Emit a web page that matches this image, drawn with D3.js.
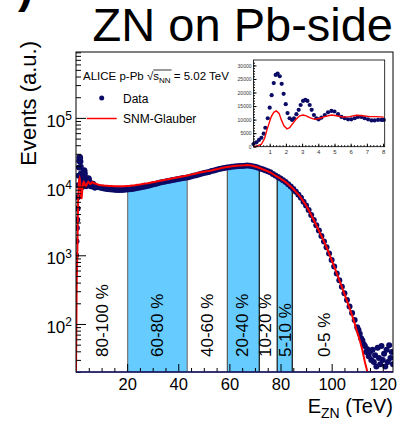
<!DOCTYPE html>
<html>
<head>
<meta charset="utf-8">
<script src="https://cdn.jsdelivr.net/npm/d3@7"></script>
<style>
body { margin: 0; background: #fff; }
svg { display: block; font-family: "Liberation Sans", Arial, Helvetica, sans-serif; }
</style>
</head>
<body>
<svg id="chart"></svg>
<script>
// low energy part (TeV), also shown in the inset
const lowE = [0, 0.18, 0.34, 0.49, 0.63, 0.73, 0.88, 1.0, 1.12, 1.25, 1.37, 1.49, 1.62, 1.74, 1.86, 1.99,
    2.1, 2.23, 2.38, 2.5, 2.65, 2.79, 2.91, 3.06, 3.2, 3.33, 3.47, 3.59, 3.73, 3.88, 4.02, 4.19, 4.4,
    4.6, 4.81, 5.0, 5.22, 5.43, 5.63, 5.84, 6.04, 6.25, 6.45, 6.66, 6.86, 7.07, 7.28, 7.48, 7.69, 7.9, 8.04];
const lowData = [1000, 1600, 2500, 3300, 4800, 7000, 10500, 14400, 19000, 23500, 26500, 27000, 26000, 23200, 19500, 15700,
    12400, 10500, 9900, 10500, 12000, 13600, 15400, 16900, 17300, 16900, 15400, 13600, 11700, 10500, 10100, 10700, 11700,
    12700, 13200, 13000, 12000, 11000, 10500, 10100, 10100, 10500, 11000, 11000, 10500, 10100, 9700, 9700, 9900, 9900, 9900];
const lowModelE = [0, 0.28, 0.49, 0.69, 0.83, 0.96, 1.1, 1.25, 1.41, 1.58, 1.72, 1.88, 2.07, 2.23, 2.43, 2.64,
    2.85, 3.06, 3.26, 3.47, 3.78, 4.09, 4.4, 4.81, 5.12, 5.53, 5.94, 6.35, 6.76, 7.17, 7.58, 8.04];
const lowModel = [0, 400, 900, 3100, 6200, 8600, 11100, 12700, 13200, 12300, 9900, 7700, 6600, 7000, 8600, 10200,
    11400, 11700, 11400, 10700, 10100, 10500, 11100, 11700, 11400, 10900, 11100, 11600, 11400, 11100, 11100, 10900];

// main spectrum, 1 TeV bins from 9 TeV
const mainStart = 9;
const mainData = [9790, 9530, 9380, 9230, 9140, 9050, 8990, 8920, 8920, 8950, 8990, 9050, 9140, 9230, 9380, 9530,
    9690, 9870, 10030, 10200, 10450, 10700, 10950, 11200, 11470, 11660, 11860, 12060, 12260, 12470, 12680, 12900,
    13080, 13300, 13480, 13710, 14040, 14380, 14660, 15010, 15370, 15740, 16060, 16370, 16810, 17200, 17610, 18030,
    18340, 18650, 18910, 19160, 19420, 19610, 19740, 19870, 20010, 20140, 20280, 20140, 19810, 19420, 18910, 18400,
    17860, 17260, 16680, 16120, 15240, 14490, 13780, 13110, 12340, 11620, 10840, 10030, 9230, 8390, 7620, 6850,
    6040, 5290, 4550, 3850, 3260, 2740, 2290, 1910, 1590, 1310, 1060, 853, 686, 545, 433, 348, 281, 223, 180, 145, 114, 90];
// noisy tail, 0.5 TeV bins from 110.5 TeV
const tailStart = 110.5;
const tailData = [82, 72, 62, 58, 51, 48, 39, 43, 34, 39, 30, 42, 28, 35, 24, 45, 32, 26, 48, 30, 37, 24, 42, 28, 49, 32, 39, 26];
// SNM-Glauber, 1 TeV bins from 9 TeV
const modelData = [10550, 10430, 10330, 10260, 10190, 10160, 10120, 10090, 10090, 10090, 10120, 10190, 10260, 10360,
    10470, 10610, 10750, 10940, 11080, 11150, 11340, 11540, 11730, 11970, 12180, 12380, 12550, 12760, 12980, 13200,
    13420, 13640, 13870, 14110, 14350, 14590, 14940, 15240, 15550, 15870, 16190, 16460, 16690, 16910, 17200, 17550,
    17900, 18270, 18640, 18950, 19210, 19470, 19730, 19930, 20060, 20200, 20340, 20470, 20540, 20400, 20060, 19600,
    19080, 18510, 17900, 17310, 16690, 16030, 15240, 14490, 13780, 13110, 12340, 11620, 10840, 10030, 9230, 8390,
    7620, 6850, 6040, 5290, 4550, 3850, 3260, 2740, 2290, 1910, 1590, 1310, 1060, 853, 686, 545, 433, 348, 273, 216,
    171, 133, 102, 76, 58, 42, 28, 15, 0, 0, 0, 0, 0, 0, 0, 0, 0, 0];

// centrality classes
const classNames = ['80-100 %', '60-80 %', '40-60 %', '20-40 %', '10-20 %', '5-10 %', '0-5 %'];
const classEdges = [0, 20.2, 43.5, 59.2, 71.7, 78.7, 84.6, 124];
const classLabelE = [10, 31.8, 51.3, 64.9, 74.1, 81.6, 97];
const filledClasses = ['60-80 %', '20-40 %', '5-10 %'];

const xTicks = [20, 40, 60, 80, 100, 120];
const yTicks = [1e2, 1e3, 1e4, 1e5];
const insetXTicks = [1, 2, 3, 4, 5, 6, 7, 8];
const insetYTicks = [0, 5000, 10000, 15000, 20000, 25000, 30000];

class ZNChart {

    constructor(config) {
        this.config = {
            parent: config.parent,
            width: config.width || 403,
            height: config.height || 422,
            margin: config.margin || {top: 52, right: 10, bottom: 50, left: 76}
        }
        this.init();
    }

    init() {
        let self = this;

        self.svg = d3.select(self.config.parent)
            .attr('width', self.config.width)
            .attr('height', self.config.height);

        self.inner_width = self.config.width - self.config.margin.left - self.config.margin.right;
        self.inner_height = self.config.height - self.config.margin.top - self.config.margin.bottom;

        self.chart = self.svg.append('g')
            .attr('transform', `translate(${self.config.margin.left}, ${self.config.margin.top})`);

        self.ymin = 20;
        self.xscale = d3.scaleLinear()
            .domain([0, 124])
            .range([0, self.inner_width]);
        self.yscale = d3.scaleLog()
            .domain([self.ymin, 9.1e5])
            .range([self.inner_height, 0]);

        self.data = lowE.map((e, i) => ({e: e, v: lowData[i]}))
            .concat(mainData.map((v, i) => ({e: mainStart + i, v: v})))
            .concat(tailData.map((v, i) => ({e: tailStart + 0.5 * i, v: v})));
        self.model = lowModelE.map((e, i) => ({e: e, v: lowModel[i]}))
            .concat(modelData.map((v, i) => ({e: mainStart + i, v: v})));

        self.svg.append('defs').append('clipPath').attr('id', 'plotclip')
            .append('rect').attr('width', self.inner_width).attr('height', self.inner_height);
    }

    yv(v) {
        return this.yscale(Math.max(v, this.ymin));
    }

    // data value at energy e, interpolated in log
    valueAt(e) {
        let d = this.data;
        for (let i = 0; i < d.length - 1; i++) {
            if (e >= d[i].e && e <= d[i + 1].e) {
                let t = (e - d[i].e) / (d[i + 1].e - d[i].e);
                return Math.exp(Math.log(d[i].v) * (1 - t) + Math.log(d[i + 1].v) * t);
            }
        }
        return d[d.length - 1].v;
    }

    render() {
        let self = this;
        const navy = '#0b0b66';

        let plot = self.chart.append('g').attr('clip-path', 'url(#plotclip)');

        // filled centrality classes
        classNames.forEach((name, i) => {
            if (filledClasses.indexOf(name) < 0) return;
            let lo = classEdges[i], hi = classEdges[i + 1];
            let pts = [{e: lo, v: self.valueAt(lo)}]
                .concat(self.data.filter(d => d.e > lo && d.e < hi))
                .concat([{e: hi, v: self.valueAt(hi)}]);
            plot.append('path')
                .datum(pts)
                .attr('fill', '#66ccff')
                .attr('d', d3.area()
                    .x(d => self.xscale(d.e))
                    .y0(self.inner_height)
                    .y1(d => self.yv(d.v)));
        });

        // class boundaries
        const edgeColors = ['#777', '#777', '#555', '#111', '#111', '#111'];
        classEdges.slice(1, 7).forEach((e, i) => {
            plot.append('line')
                .attr('x1', self.xscale(e)).attr('x2', self.xscale(e))
                .attr('y1', self.inner_height).attr('y2', self.yv(self.valueAt(e)))
                .attr('stroke', edgeColors[i]).attr('stroke-width', 1.2);
        });

        // class labels
        classNames.forEach((name, i) => {
            self.chart.append('text')
                .attr('transform', `translate(${self.xscale(classLabelE[i]) + 6}, ${self.inner_height - 15}) rotate(-90)`)
                .attr('font-size', 17)
                .text(name);
        });

        // data points
        plot.selectAll('circle.data').data(self.data).enter()
            .append('circle')
            .attr('class', 'data')
            .attr('cx', d => self.xscale(d.e))
            .attr('cy', d => self.yv(d.v))
            .attr('r', 3)
            .attr('fill', navy);

        // model line
        plot.append('path')
            .datum(self.model)
            .attr('fill', 'none')
            .attr('stroke', '#ff0000')
            .attr('stroke-width', 2)
            .attr('d', d3.line().x(d => self.xscale(d.e)).y(d => self.yv(d.v)));

        // axes
        self.xaxis_group = self.chart.append('g')
            .attr('transform', `translate(0, ${self.inner_height})`)
            .call(d3.axisBottom(self.xscale).tickValues(xTicks).tickSize(-8).tickPadding(6).tickFormat(d3.format('d')))
            .attr('font-size', 16.5).attr('font-family', null);
        self.xaxis_group.select('.domain').remove();

        let xminor = d3.range(5, 124, 5).filter(v => xTicks.indexOf(v) < 0);
        self.chart.append('g')
            .attr('transform', `translate(0, ${self.inner_height})`)
            .call(d3.axisBottom(self.xscale).tickValues(xminor).tickSize(-4).tickFormat(''))
            .select('.domain').remove();

        self.yaxis_group = self.chart.append('g')
            .call(d3.axisLeft(self.yscale).tickValues(yTicks).tickSize(-10).tickPadding(4))
            .attr('font-size', 17).attr('font-family', null);
        self.yaxis_group.select('.domain').remove();
        self.yaxis_group.selectAll('text').each(function(d) {
            let t = d3.select(this).attr('dy', '0.5em').text('10');
            t.append('tspan').attr('dy', '-0.55em').attr('font-size', 12).text(Math.round(Math.log10(d)));
        });

        let yminor = [];
        [10, 100, 1e3, 1e4, 1e5].forEach(dec => {
            for (let k = 2; k <= 9; k++) {
                let v = k * dec;
                if (v >= self.ymin && v <= 9.1e5) yminor.push(v);
            }
        });
        self.chart.append('g')
            .call(d3.axisLeft(self.yscale).tickValues(yminor).tickSize(-5).tickFormat(''))
            .select('.domain').remove();

        // frame
        self.chart.append('rect')
            .attr('width', self.inner_width).attr('height', self.inner_height)
            .attr('fill', 'none').attr('stroke', '#000').attr('stroke-width', 1);
        self.chart.append('line')
            .attr('x1', 0).attr('x2', self.inner_width)
            .attr('y1', self.inner_height).attr('y2', self.inner_height)
            .attr('stroke', '#1c1c6c').attr('stroke-width', 1.5);

        // titles
        self.svg.append('text')
            .attr('x', 393).attr('y', 41)
            .attr('text-anchor', 'end')
            .attr('font-size', 47)
            .text('ZN on Pb-side');
        self.svg.append('text')
            .attr('x', 18).attr('y', 2)
            .attr('font-size', 46).attr('font-weight', 'bold')
            .text(')');
        self.svg.append('text')
            .attr('transform', 'translate(36, 41) rotate(-90)')
            .attr('text-anchor', 'end')
            .attr('font-size', 22)
            .text('Events (a.u.)');
        let xt = self.svg.append('text')
            .attr('x', 393).attr('y', 413)
            .attr('text-anchor', 'end')
            .attr('font-size', 20);
        xt.append('tspan').text('E');
        xt.append('tspan').attr('font-size', 14).attr('dy', 5).text('ZN');
        xt.append('tspan').attr('dy', -5).text(' (TeV)');

        self.renderLegend();
        self.renderInset();
    }

    renderLegend() {
        let self = this;
        let g = self.svg.append('g');
        let t = g.append('text').attr('x', 83).attr('y', 80).attr('font-size', 11.5);
        t.append('tspan').text('ALICE p-Pb ');
        t.append('tspan').text('\u221A');
        let s = t.append('tspan').text('s');
        let nn = t.append('tspan').attr('font-size', 8).attr('dy', 3).text('NN');
        t.append('tspan').attr('dy', -3).text(' = 5.02 TeV');
        let x0 = s.node().getStartPositionOfChar(0).x;
        let x1 = nn.node().getEndPositionOfChar(1).x;
        g.append('line')
            .attr('x1', x0).attr('x2', x1 + 1)
            .attr('y1', 70).attr('y2', 70)
            .attr('stroke', '#000').attr('stroke-width', 0.8);

        g.append('circle').attr('cx', 101.7).attr('cy', 98).attr('r', 2.5).attr('fill', '#0b0b66');
        g.append('text').attr('x', 123).attr('y', 102.5).attr('font-size', 12).text('Data');
        g.append('line').attr('x1', 86.7).attr('x2', 116.7).attr('y1', 118.5).attr('y2', 118.5)
            .attr('stroke', '#ff0000').attr('stroke-width', 1.5);
        g.append('text').attr('x', 123).attr('y', 123).attr('font-size', 12).text('SNM-Glauber');
    }

    renderInset() {
        let self = this;
        let left = 253.5, top = 60, w = 131.2, h = 86.7;
        let g = self.svg.append('g').attr('transform', `translate(${left}, ${top})`);

        let xs = d3.scaleLinear().domain([0, 8.1]).range([0, w]);
        let ys = d3.scaleLinear().domain([0, 32000]).range([h, 0]);

        g.append('rect').attr('width', w).attr('height', h).attr('fill', '#fff');

        g.selectAll('circle').data(lowE).enter()
            .append('circle')
            .attr('cx', d => xs(d))
            .attr('cy', (d, i) => ys(lowData[i]))
            .attr('r', 2.1)
            .attr('fill', '#0b0b66');

        g.append('path')
            .datum(lowModelE.map((e, i) => [e, lowModel[i]]))
            .attr('fill', 'none').attr('stroke', '#ff0000').attr('stroke-width', 1.4)
            .attr('d', d3.line().x(d => xs(d[0])).y(d => ys(d[1])));

        let xa = g.append('g').attr('transform', `translate(0, ${h})`)
            .call(d3.axisBottom(xs).tickValues(insetXTicks).tickSize(-3).tickPadding(3).tickFormat(d3.format('d')))
            .attr('font-size', 6).attr('font-family', null);
        xa.select('.domain').remove();
        xa.selectAll('text').attr('fill', '#333');
        g.append('g').attr('transform', `translate(0, ${h})`)
            .call(d3.axisBottom(xs).tickValues(d3.range(0.2, 8.1, 0.2)).tickSize(-1.5).tickFormat(''))
            .select('.domain').remove();

        let ya = g.append('g')
            .call(d3.axisLeft(ys).tickValues(insetYTicks).tickSize(-3).tickPadding(2).tickFormat(d3.format('d')))
            .attr('font-size', 5).attr('font-family', null);
        ya.select('.domain').remove();
        ya.selectAll('text').attr('fill', '#333');
        g.append('g')
            .call(d3.axisLeft(ys).tickValues(d3.range(1000, 32000, 1000)).tickSize(-1.5).tickFormat(''))
            .select('.domain').remove();

        g.append('rect').attr('width', w).attr('height', h)
            .attr('fill', 'none').attr('stroke', '#000').attr('stroke-width', 0.8);
    }
}

let chart = new ZNChart({parent: '#chart'});
chart.render();
</script>
</body>
</html>
